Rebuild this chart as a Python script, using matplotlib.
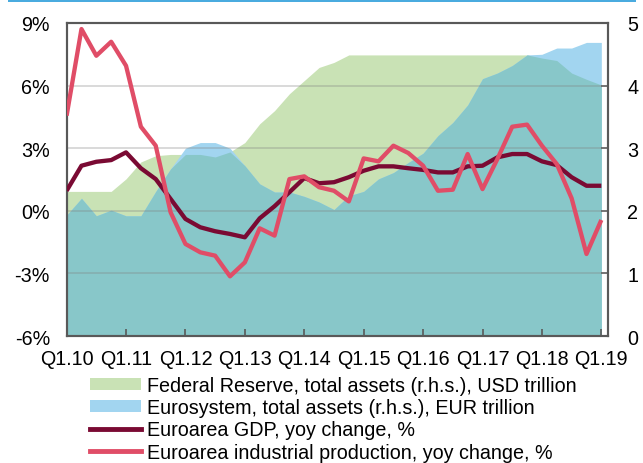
import numpy as np
import matplotlib
matplotlib.use("Agg")
import matplotlib.pyplot as plt
from matplotlib.patches import Patch, Rectangle
from matplotlib.lines import Line2D

plt.rcParams['font.family'] = ['Liberation Sans', 'DejaVu Sans']

# Quarterly data Q1.10 ... Q1.19 (37 quarters)
ip_yoy = [4.56, 8.71, 7.43, 8.10, 6.95, 4.03, 3.12, -0.07, -1.59, -1.99, -2.15, -3.14, -2.47,
          -0.84, -1.19, 1.52, 1.65, 1.13, 0.96, 0.45, 2.51, 2.37, 3.12, 2.77, 2.16, 0.96,
          1.01, 2.72, 1.04, 2.48, 4.03, 4.13, 3.12, 2.24, 0.60, -2.07, -0.44]
gdp_yoy = [0.96, 2.16, 2.35, 2.43, 2.80, 2.04, 1.52, 0.57, -0.39, -0.79, -0.98, -1.11, -1.27,
           -0.36, 0.22, 0.89, 1.57, 1.32, 1.37, 1.61, 1.92, 2.13, 2.13, 2.04, 1.96, 1.84,
           1.84, 2.13, 2.16, 2.56, 2.72, 2.72, 2.37, 2.19, 1.61, 1.20, 1.20]
fed_assets = [2.31, 2.31, 2.31, 2.31, 2.51, 2.78, 2.88, 2.90, 2.90, 2.90, 2.86, 2.94, 3.09,
              3.39, 3.60, 3.87, 4.08, 4.29, 4.37, 4.49, 4.49, 4.49, 4.49, 4.49, 4.49, 4.49,
              4.49, 4.49, 4.49, 4.49, 4.49, 4.49, 4.44, 4.40, 4.20, 4.10, 4.01]
ecb_assets = [1.93, 2.20, 1.92, 2.01, 1.92, 1.92, 2.31, 2.67, 3.00, 3.09, 3.09, 3.00, 2.72,
              2.43, 2.30, 2.30, 2.23, 2.14, 2.02, 2.24, 2.31, 2.51, 2.61, 2.77, 2.92, 3.20,
              3.41, 3.69, 4.11, 4.20, 4.32, 4.49, 4.50, 4.60, 4.60, 4.69, 4.69]
year_labels = ['Q1.10', 'Q1.11', 'Q1.12', 'Q1.13', 'Q1.14', 'Q1.15', 'Q1.16', 'Q1.17', 'Q1.18', 'Q1.19']
legend_labels = ['Federal Reserve, total assets (r.h.s.), USD trillion',
                 'Eurosystem, total assets (r.h.s.), EUR trillion',
                 'Euroarea GDP, yoy change, %',
                 'Euroarea industrial production, yoy change, %']

c_green = '#c9e2b5'
c_blue = '#a2d5f0'
c_teal = '#88c7c9'
c_gdp = '#7a0a33'
c_ip = '#e04d67'
c_spine = '#595959'
fs = 14.2

x = np.arange(len(ip_yoy))
fed = np.array(fed_assets)
ecb = np.array(ecb_assets)

fig = plt.figure(figsize=(6.43, 4.64), dpi=100)
ax = fig.add_axes([0.1036, 0.2737, 0.8420, 0.6746])
ax2 = ax.twinx()

ax2.fill_between(x, 0, fed, color=c_green, lw=0)
ax2.fill_between(x, 0, ecb, color=c_blue, lw=0)
ax2.fill_between(x, 0, np.minimum(fed, ecb), color=c_teal, lw=0)
ax2.set_ylim(0, 5)
ax2.set_yticks(range(0, 6))

ax.set_zorder(ax2.get_zorder() + 1)
ax.patch.set_visible(False)

ax.plot(x, gdp_yoy, color=c_gdp, lw=3.1, solid_capstyle='butt', zorder=3)
ax.plot(x, ip_yoy, color=c_ip, lw=3.1, solid_capstyle='butt', zorder=4)

ax.set_ylim(-6, 9)
ax.set_yticks([-6, -3, 0, 3, 6, 9])
ax.set_yticklabels(['-6%', '-3%', '0%', '3%', '6%', '9%'])
for v in [-3, 0, 3, 6]:
    ax.axhline(v, color='#808080', alpha=0.35, lw=1.2, zorder=1)

ax.set_xlim(0, 36.45)
ax.set_xticks(np.arange(0, 37, 4))
ax.set_xticklabels(year_labels)

for a in (ax, ax2):
    for s in a.spines.values():
        s.set_color(c_spine)
        s.set_linewidth(1.5)
ax.tick_params(axis='x', direction='in', length=5, width=1.2, color=c_spine, labelsize=fs, pad=9)
ax.tick_params(axis='y', direction='in', length=0, labelsize=fs, pad=12)
ax2.tick_params(axis='y', direction='in', length=5, width=1.2, color=c_spine, labelsize=fs, pad=14)

handles = [Patch(facecolor=c_green, edgecolor='none'),
           Patch(facecolor=c_blue, edgecolor='none'),
           Line2D([0], [0], color=c_gdp, lw=3.5),
           Line2D([0], [0], color=c_ip, lw=3.5)]
fig.legend(handles, legend_labels, loc='upper left', bbox_to_anchor=(0.1405, 0.188),
           frameon=False, fontsize=fs, handlelength=2.55, handleheight=0.55,
           handletextpad=0.3, labelspacing=0.17, borderaxespad=0, borderpad=0)

fig.add_artist(Rectangle((0.013, 0.994), 0.976, 0.007, transform=fig.transFigure,
                         color='#4aabdf', lw=0))

fig.savefig('out.png', dpi=100)
